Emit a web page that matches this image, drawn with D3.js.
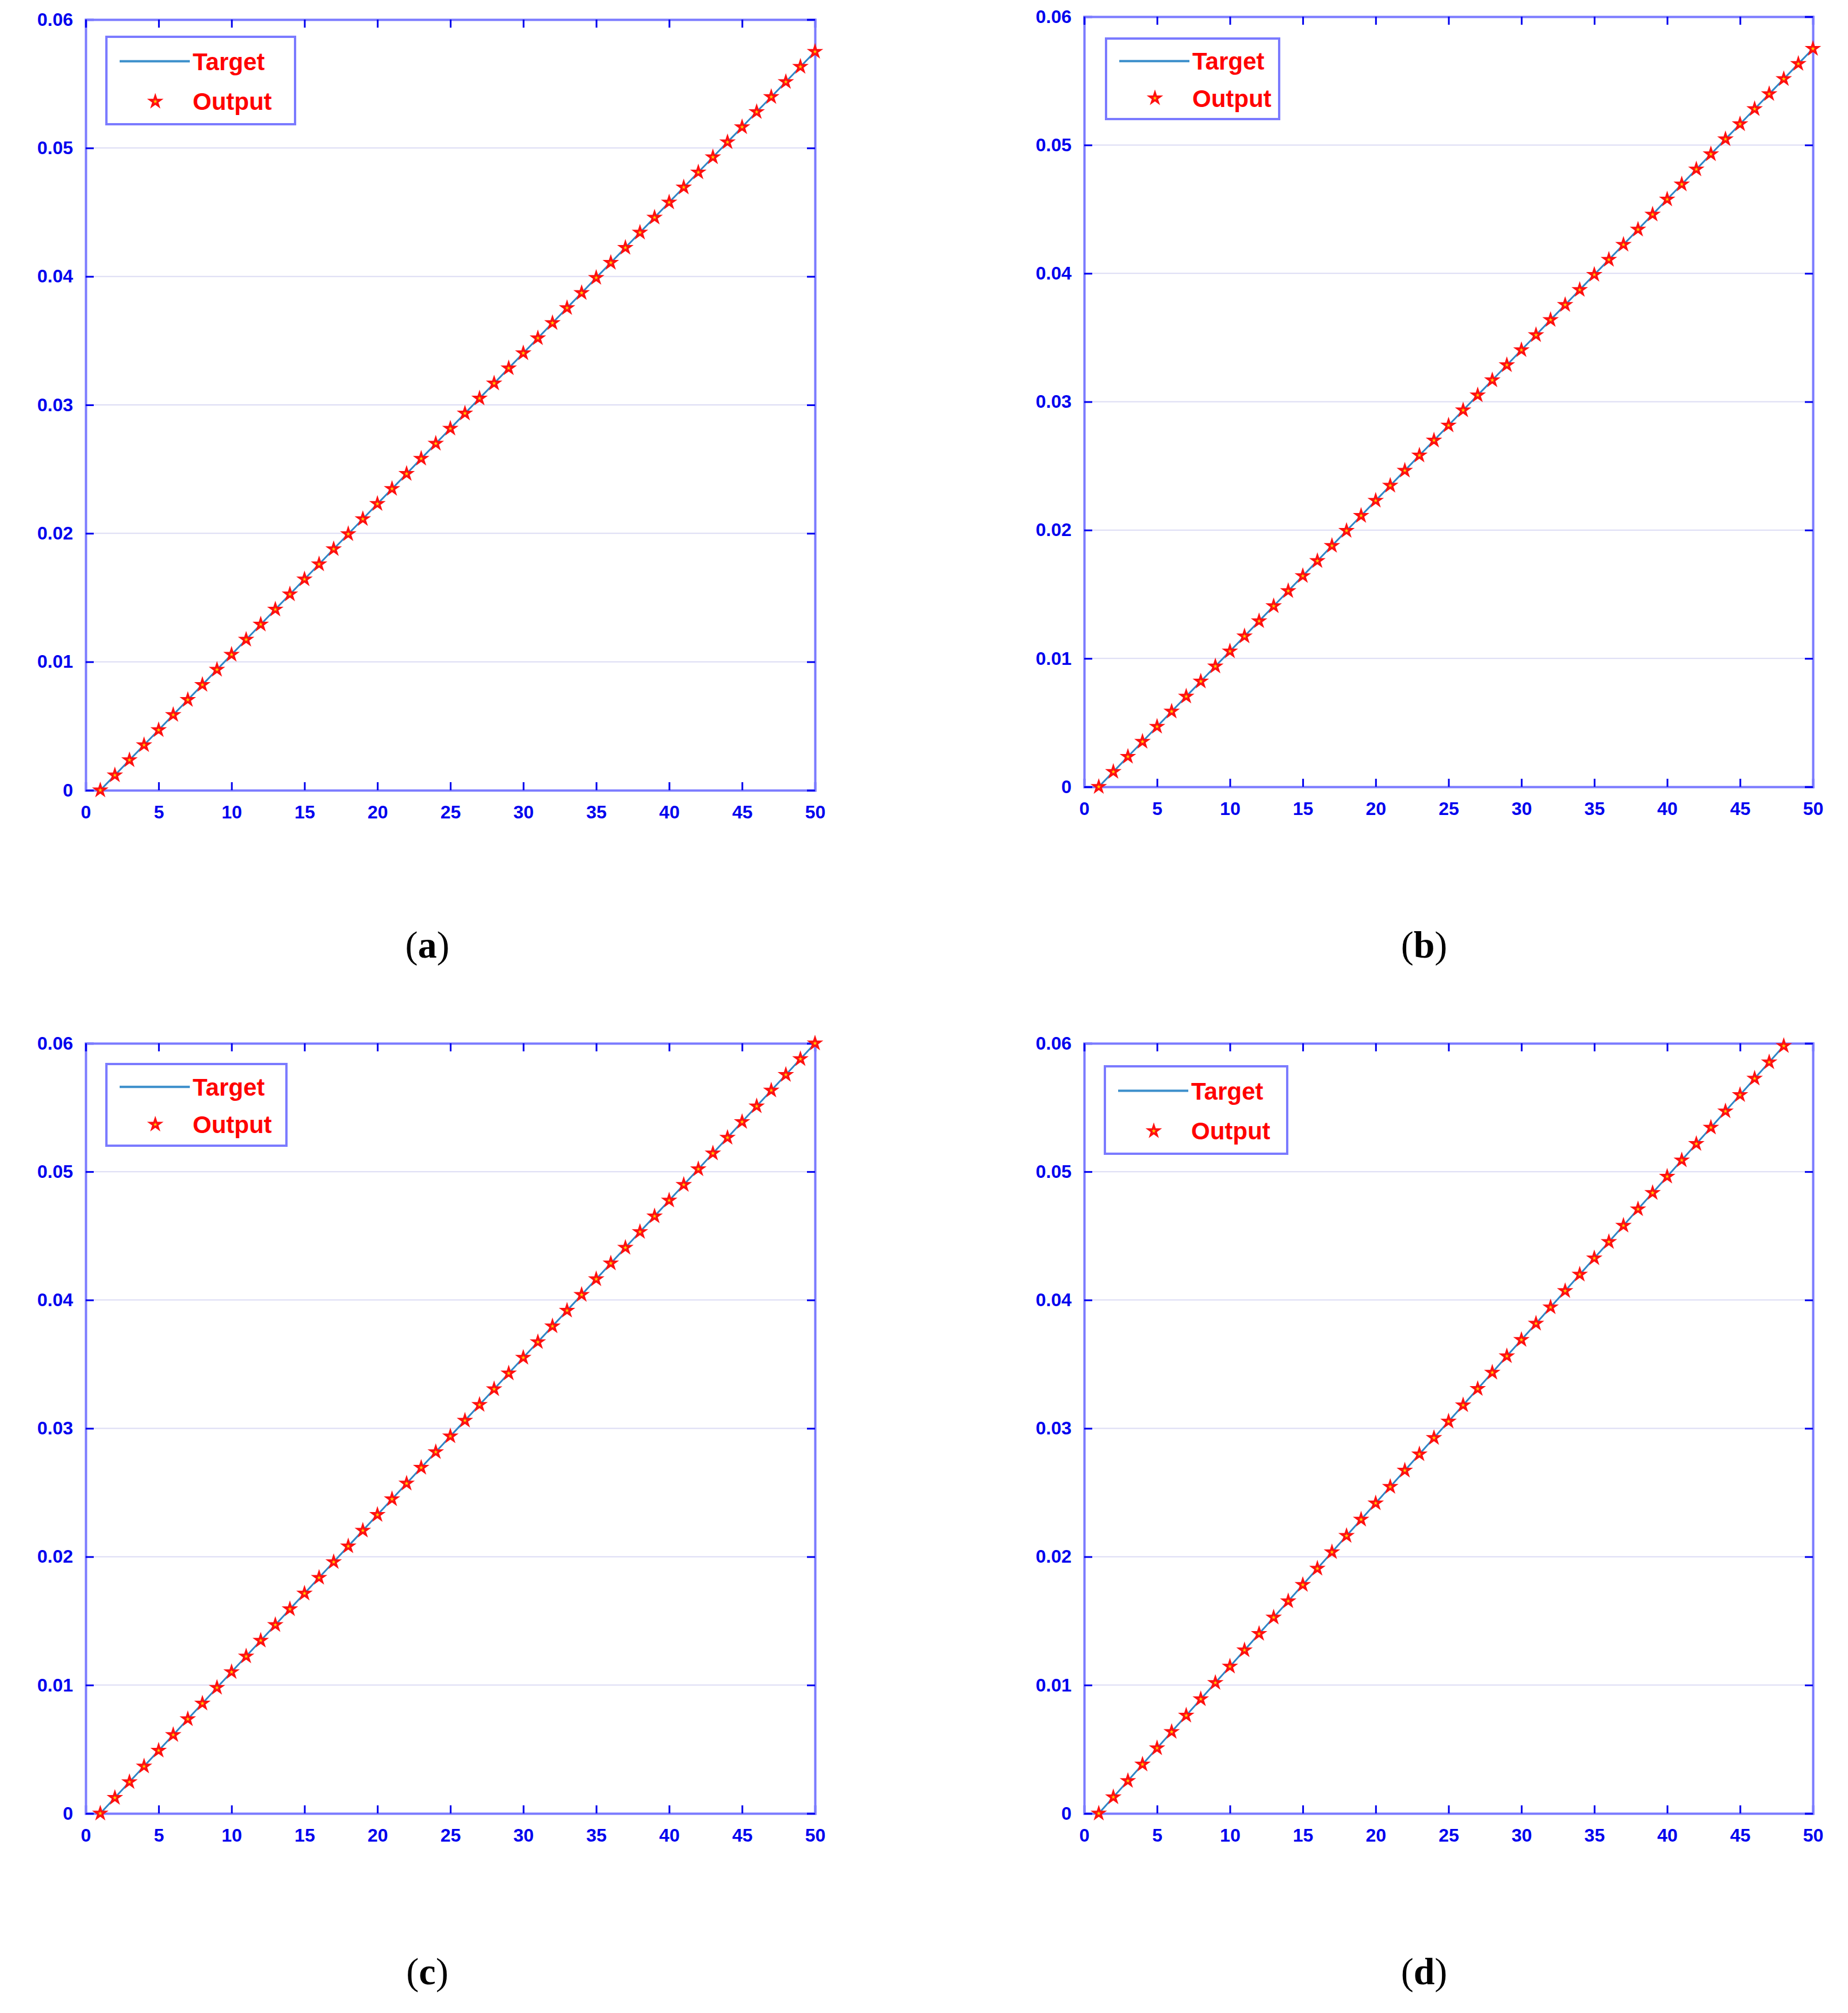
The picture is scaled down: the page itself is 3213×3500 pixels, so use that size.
<!DOCTYPE html>
<html><head><meta charset="utf-8">
<script src="https://cdn.jsdelivr.net/npm/d3@7"></script>
<style>body{margin:0;background:#fff}</style>
</head><body>
<svg id="chart" width="3213" height="3500"></svg>
<script>
// values (target and output overlap)
const outputA = [0,.00117,.00235,.00352,.00469,.00587,.00704,.00821,.00939,.01056,.01173,.01291,.01408,.01526,.01643,.0176,.01878,.01995,.02112,.0223,.02347,.02464,.02582,.02699,.02816,.02934,.03051,.03168,.03286,.03403,.0352,.03638,.03755,.03872,.0399,.04107,.04224,.04342,.04459,.04577,.04694,.04811,.04929,.05046,.05163,.05281,.05398,.05515,.05633,.0575];
const outputB = [0,.00117,.00235,.00352,.00469,.00587,.00704,.00821,.00939,.01056,.01173,.01291,.01408,.01526,.01643,.0176,.01878,.01995,.02112,.0223,.02347,.02464,.02582,.02699,.02816,.02934,.03051,.03168,.03286,.03403,.0352,.03638,.03755,.03872,.0399,.04107,.04224,.04342,.04459,.04577,.04694,.04811,.04929,.05046,.05163,.05281,.05398,.05515,.05633,.0575];
const outputC = [0,.00122,.00245,.00367,.0049,.00612,.00735,.00857,.0098,.01102,.01224,.01347,.01469,.01592,.01714,.01837,.01959,.02082,.02204,.02327,.02449,.02571,.02694,.02816,.02939,.03061,.03184,.03306,.03429,.03551,.03673,.03796,.03918,.04041,.04163,.04286,.04408,.04531,.04653,.04776,.04898,.0502,.05143,.05265,.05388,.0551,.05633,.05755,.05878,.06];
const outputD = [0,.00127,.00254,.00382,.00509,.00636,.00763,.00891,.01018,.01145,.01272,.014,.01527,.01654,.01781,.01908,.02036,.02163,.0229,.02417,.02545,.02672,.02799,.02926,.03054,.03181,.03308,.03435,.03563,.0369,.03817,.03944,.04071,.04199,.04326,.04453,.0458,.04708,.04835,.04962,.05089,.05217,.05344,.05471,.05598,.05726,.05853,.0598];
const xTicks = [0,5,10,15,20,25,30,35,40,45,50];
const yTicks = [0,0.01,0.02,0.03,0.04,0.05,0.06];
const captions = ["a","b","c","d"];

const panels = [
  {data: outputA, l:149, r:1417, t:34, b:1374, lg:[185,64,513,216], cx:743, cy:1665},
  {data: outputB, l:1885, r:3152, t:29, b:1368, lg:[1923,67,2224,207], cx:2476, cy:1665},
  {data: outputC, l:149, r:1417, t:1814, b:3153, lg:[185,1850,498,1992], cx:743, cy:3450},
  {data: outputD, l:1885, r:3152, t:1814, b:3153, lg:[1921,1854,2238,2006], cx:2476, cy:3450}
];

const svg = d3.select("#chart");
const axisCol = "#7b7bff", tickCol = "#0000ee";
const star = d3.symbol().type(d3.symbolStar).size(100);

panels.forEach((p, i) => {
    const x = d3.scaleLinear().domain([0,50]).range([p.l, p.r]);
    const y = d3.scaleLinear().domain([0,0.06]).range([p.b, p.t]);
    const g = svg.append("g");

    // grid
    g.selectAll(".grid").data(yTicks.slice(1, -1)).enter().append("line")
        .attr("x1", p.l).attr("x2", p.r)
        .attr("y1", d => y(d)).attr("y2", d => y(d))
        .attr("stroke", "#dcdcf4").attr("stroke-width", 2);

    const fmt = d => d === 0 ? "0" : d3.format(".2f")(d);
    const ax = [
        [d3.axisBottom(x).tickValues(xTicks).tickSize(-14).tickPadding(26), `translate(0,${p.b})`],
        [d3.axisLeft(y).tickValues(yTicks).tickFormat(fmt).tickSize(-14).tickPadding(22), `translate(${p.l},0)`],
        [d3.axisTop(x).tickValues(xTicks).tickSize(-14).tickFormat(""), `translate(0,${p.t})`],
        [d3.axisRight(y).tickValues(yTicks).tickSize(-14).tickFormat(""), `translate(${p.r},0)`]
    ];
    ax.forEach(([a, tr]) => {
        const s = g.append("g").attr("transform", tr).call(a);
        s.select(".domain").attr("stroke", axisCol).attr("stroke-width", 4);
        s.selectAll(".tick line").attr("stroke", tickCol).attr("stroke-width", 3);
        s.selectAll("text").attr("fill", tickCol)
            .style("font-family", "Liberation Sans, Arial").style("font-weight", "bold").style("font-size", "32px");
    });

    const idx = p.data.map((d, k) => k + 1);
    g.append("path").datum(idx)
        .attr("fill", "none").attr("stroke", "#2f86c6").attr("stroke-width", 3)
        .attr("d", d3.line().x(k => x(k)).y(k => y(p.data[k - 1])));
    g.selectAll(".pt").data(idx).enter().append("path")
        .attr("transform", k => `translate(${x(k)},${y(p.data[k - 1])})`)
        .attr("d", star).attr("fill", "#ffd400").attr("stroke", "#ff1010").attr("stroke-width", 3.5);

    // legend
    const [lx0, ly0, lx1, ly1] = p.lg;
    g.append("rect").attr("x", lx0).attr("y", ly0).attr("width", lx1 - lx0).attr("height", ly1 - ly0)
        .attr("fill", "#fff").attr("stroke", axisCol).attr("stroke-width", 4);
    const h = ly1 - ly0;
    g.append("line").attr("x1", lx0 + 23).attr("x2", lx0 + 145)
        .attr("y1", ly0 + h * 0.28).attr("y2", ly0 + h * 0.28)
        .attr("stroke", "#3c8fcb").attr("stroke-width", 4);
    g.append("path").attr("transform", `translate(${lx0 + 85},${ly0 + h * 0.74})`)
        .attr("d", star).attr("fill", "#ffd400").attr("stroke", "#ff1010").attr("stroke-width", 3.5);
    [["Target", 0.28], ["Output", 0.74]].forEach(([t, f]) => {
        g.append("text").attr("x", lx0 + 150).attr("y", ly0 + h * f + 15)
            .attr("fill", "#ff0000").style("font-family", "Liberation Sans, Arial")
            .style("font-weight", "bold").style("font-size", "42px").text(t);
    });

    const cap = svg.append("text").attr("x", p.cx).attr("y", p.cy).attr("text-anchor", "middle")
        .style("font-family", "Liberation Serif, serif").style("font-size", "66px");
    cap.append("tspan").text("(");
    cap.append("tspan").style("font-weight", "bold").text(captions[i]);
    cap.append("tspan").text(")");
});
</script>
</body></html>
